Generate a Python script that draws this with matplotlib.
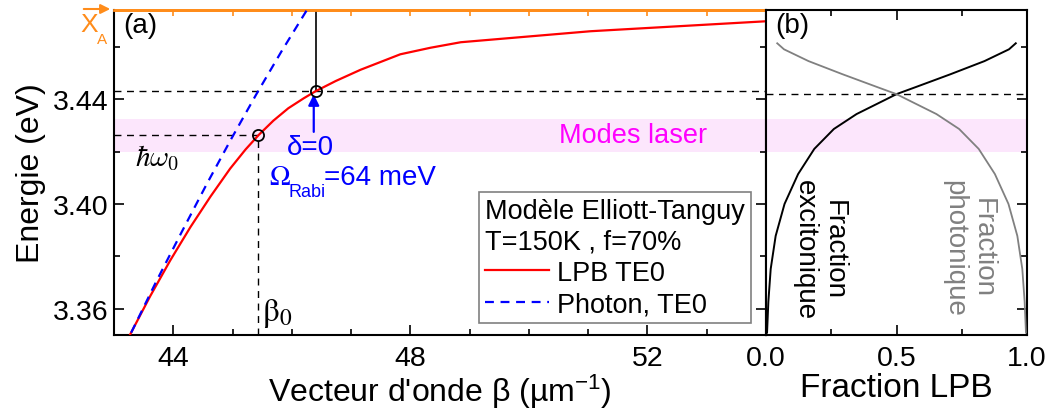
import matplotlib
matplotlib.use("Agg")
import matplotlib.pyplot as plt
from matplotlib.ticker import MultipleLocator
from matplotlib.patches import FancyArrowPatch

plt.rcParams['font.family'] = ['Liberation Sans', 'DejaVu Sans']
plt.rcParams['mathtext.fontset'] = 'custom'
plt.rcParams['mathtext.rm'] = 'Liberation Sans'
plt.rcParams['mathtext.sf'] = 'Liberation Sans'
plt.rcParams['mathtext.it'] = 'Liberation Sans:italic'

# === DATA ===
# LPB TE0 dispersion
beta_lpb = [43.27, 43.61, 43.95, 44.29, 44.63, 44.96, 45.22, 45.44, 45.69, 45.94,
            46.20, 46.40, 46.74, 47.16, 47.83, 48.34, 48.85, 51.04, 54.0]
E_lpb = [3.3501, 3.3648, 3.3785, 3.3912, 3.4029, 3.4135, 3.4208, 3.4263, 3.4318, 3.4365,
         3.4403, 3.4430, 3.4469, 3.4512, 3.4571, 3.4596, 3.4617, 3.4659, 3.4697]
# photon TE0 dispersion
beta_ph = [43.29, 43.71, 44.14, 44.56, 44.98, 45.40, 45.82, 46.26]
E_ph = [3.3509, 3.3703, 3.3892, 3.4074, 3.4249, 3.4418, 3.4580, 3.4742]
# excitonic fraction of the LPB vs energy (panel b)
E_frac = [3.3509, 3.3627, 3.3752, 3.3878, 3.4000, 3.4114, 3.4210, 3.4286, 3.4343,
          3.4400, 3.4419, 3.4446, 3.4495, 3.4545, 3.4590, 3.4613]
frac_exc = [0.004, 0.009, 0.018, 0.037, 0.071, 0.123, 0.185, 0.260, 0.347,
            0.462, 0.500, 0.574, 0.707, 0.837, 0.931, 0.957]
frac_ph = [1 - f for f in frac_exc]

E_XA = 3.474          # exciton A energy
E_laser = (3.4198, 3.4324)   # laser modes band
beta0, E0 = 45.43, 3.4263    # hbar omega_0 point
beta_d0, E_d0 = 46.40, 3.4432  # delta = 0 point
E_d0_b = 3.4419

orange = '#FF8C1A'
pink = '#FCE6FC'

fig = plt.figure(figsize=(10.53, 4.10), dpi=100)
ax = fig.add_axes([114/1053, 1-336/410, (766-114)/1053, 325/410])
axb = fig.add_axes([766/1053, 1-336/410, (1027-766)/1053, 325/410], sharey=ax)

# ---- panel (a) ----
ax.axhspan(E_laser[0], E_laser[1], color=pink, lw=0, zorder=0)
ax.plot(beta_lpb, E_lpb, color='red', lw=1.6, label='LPB TE0', zorder=3)
ax.plot(beta_ph, E_ph, color='blue', lw=1.6, ls=(0, (4, 3)), label='Photon, TE0', zorder=3)

ax.axhline(E_d0, color='black', lw=1, ls=(0, (5, 4)), zorder=2)
ax.plot([43, beta0], [E0, E0], color='black', lw=1, ls=(0, (5, 4)), zorder=2)
ax.plot([beta0, beta0], [3.35, E0], color='black', lw=1, ls=(0, (5, 4)), zorder=2)
ax.plot([beta_d0, beta_d0], [E_d0, E_XA], color='black', lw=1.2, zorder=2)
ax.plot([beta0, beta_d0], [E0, E_d0], 'o', ms=8, mfc='none', mec='black', mew=1.3, zorder=4)

ax.annotate('', xy=(beta_d0 - 0.03, E_d0 - 0.0014), xytext=(beta_d0 - 0.03, 3.4275),
            arrowprops=dict(arrowstyle='-|>', color='blue', lw=1.6,
                            mutation_scale=16, shrinkA=0, shrinkB=0))
ax.text(46.31, 3.4217, 'δ=0', color='blue', fontsize=20, ha='center', va='center')
ax.text(45.62, 3.4076, r'$\Omega$', color='blue', fontsize=20, ha='left', va='baseline',
        math_fontfamily='stix')
ax.text(45.94, 3.4029, 'Rabi', color='blue', fontsize=13, ha='left', va='baseline')
ax.text(46.55, 3.4076, '=64 meV', color='blue', fontsize=20, ha='left', va='baseline')
ax.text(43.36, 3.4179, r'$\hbar\omega_0$', fontsize=21, ha='left', va='center',
        math_fontfamily='cm')
ax.text(45.50, 3.3585, r'$\mathrm{\beta}_{0}$', fontsize=24, ha='left', va='center',
        math_fontfamily='stix')
ax.text(51.75, 3.4263, 'Modes laser', color='magenta', fontsize=19.5, ha='center', va='center')
ax.text(0.014, 0.995, '(a)', transform=ax.transAxes, fontsize=20, ha='left', va='top')

ax.set_xlim(43, 54)
ax.set_ylim(3.35, E_XA)
ax.xaxis.set_major_locator(MultipleLocator(4))
ax.xaxis.set_minor_locator(MultipleLocator(1))
ax.yaxis.set_major_locator(MultipleLocator(0.04))
ax.yaxis.set_minor_locator(MultipleLocator(0.02))
ax.yaxis.set_major_formatter(plt.FormatStrFormatter('%.2f'))
ax.tick_params(which='both', direction='in', top=False, right=True, width=1.2, labelsize=20.5)
ax.tick_params(which='major', length=7)
ax.tick_params(which='minor', length=4)
ax.tick_params(axis='x', pad=7)
ax.tick_params(axis='y', pad=4)
for s in ['left', 'bottom', 'right']:
    ax.spines[s].set_linewidth(1.5)
ax.spines['top'].set_color(orange)
ax.spines['top'].set_linewidth(2)

top = ax.secondary_xaxis('top')
top.xaxis.set_major_locator(MultipleLocator(1))
top.tick_params(axis='x', direction='in', length=4, width=1.2, colors=orange, labeltop=False)
top.spines['top'].set_color(orange)
top.spines['top'].set_linewidth(2)

ax.set_ylabel('Energie (eV)', fontsize=23, labelpad=5)
ax.set_xlabel("Vecteur d'onde β (µm$^{-1}$)", fontsize=23, labelpad=1)

leg = ax.legend(loc='lower right', bbox_to_anchor=(0.977, 0.037), borderaxespad=0,
                title='Modèle Elliott-Tanguy\nT=150K , f=70%', title_fontsize=19.5,
                fontsize=19.5, alignment='left', fancybox=False, framealpha=1,
                edgecolor='gray', handlelength=2.35, handletextpad=0.3,
                labelspacing=0.2, borderpad=0.22)
leg.get_frame().set_linewidth(1.2)

# X_A marker, left of the axis
fig.text(89/1053, 1 - 25/410, 'X', color=orange, fontsize=19, ha='center', va='center')
fig.text(102/1053, 1 - 40/410, 'A', color=orange, fontsize=11, ha='center', va='center')
fig.add_artist(FancyArrowPatch(
    (81/1053, 1 - 10/410), (113/1053, 1 - 10/410), transform=fig.transFigure,
    arrowstyle='-|>', mutation_scale=14, color=orange, lw=1.5))

# ---- panel (b) ----
axb.axhspan(E_laser[0], E_laser[1], color=pink, lw=0, zorder=0)
axb.axhline(E_d0_b, color='black', lw=1, ls=(0, (5, 4)), zorder=2)
axb.plot(frac_exc, E_frac, color='black', lw=1.4, zorder=3)
axb.plot(frac_ph, E_frac, color='gray', lw=1.3, zorder=3)
axb.text(0.205, 3.4095, 'Fraction\nexcitonique', rotation=-90, fontsize=20,
         ha='center', va='top', linespacing=1.15)
axb.text(0.775, 3.4095, 'Fraction\nphotonique', rotation=-90, fontsize=20, color='gray',
         ha='center', va='top', linespacing=1.15)
axb.text(0.035, 0.995, '(b)', transform=axb.transAxes, fontsize=20, ha='left', va='top')

axb.set_xlim(0, 1)
axb.xaxis.set_major_locator(MultipleLocator(0.5))
axb.xaxis.set_minor_locator(MultipleLocator(0.25))
axb.xaxis.set_major_formatter(plt.FormatStrFormatter('%.1f'))
axb.tick_params(which='both', direction='in', top=True, right=True, left=False,
                labelleft=False, width=1.2, labelsize=20.5)
axb.tick_params(which='major', length=7)
axb.tick_params(which='minor', length=4)
axb.tick_params(axis='x', pad=7)
for s in axb.spines.values():
    s.set_linewidth(1.5)
axb.set_xlabel('Fraction LPB', fontsize=24, labelpad=1)

fig.savefig('out.png', dpi=100)
